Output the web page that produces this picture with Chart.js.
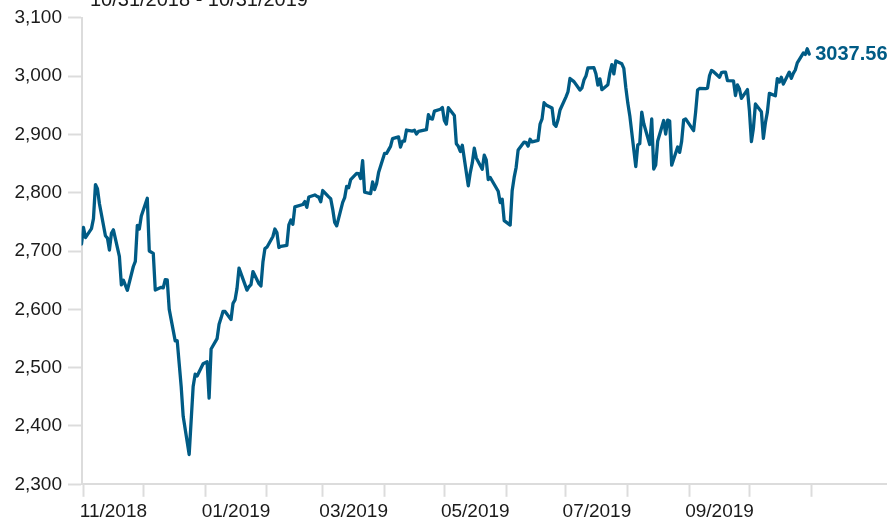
<!DOCTYPE html>
<html>
<head>
<meta charset="utf-8">
<script src="https://cdn.jsdelivr.net/npm/chart.js@4"></script>
<style>
  html, body { margin: 0; padding: 0; background: #ffffff; }
  #wrap { width: 887px; height: 524px; position: relative; }
</style>
</head>
<body>
<div id="wrap"><canvas id="c" width="887" height="524"></canvas></div>
<script>
const titleText = '10/31/2018 - 10/31/2019';

const dates = [
'2018-10-31','2018-11-01','2018-11-02','2018-11-05','2018-11-06','2018-11-07','2018-11-08','2018-11-09',
'2018-11-12','2018-11-13','2018-11-14','2018-11-15','2018-11-16','2018-11-19','2018-11-20','2018-11-21',
'2018-11-23','2018-11-26','2018-11-27','2018-11-28','2018-11-29','2018-11-30',
'2018-12-03','2018-12-04','2018-12-06','2018-12-07','2018-12-10','2018-12-11','2018-12-12','2018-12-13',
'2018-12-14','2018-12-17','2018-12-18','2018-12-19','2018-12-20','2018-12-21','2018-12-24','2018-12-26',
'2018-12-27','2018-12-28','2018-12-31',
'2019-01-02','2019-01-03','2019-01-04','2019-01-07','2019-01-08','2019-01-09','2019-01-10','2019-01-11',
'2019-01-14','2019-01-15','2019-01-16','2019-01-17','2019-01-18','2019-01-22','2019-01-23','2019-01-24',
'2019-01-25','2019-01-28','2019-01-29','2019-01-30','2019-01-31',
'2019-02-01','2019-02-04','2019-02-05','2019-02-06','2019-02-07','2019-02-08','2019-02-11','2019-02-12',
'2019-02-13','2019-02-14','2019-02-15','2019-02-19','2019-02-20','2019-02-21','2019-02-22','2019-02-25',
'2019-02-26','2019-02-27','2019-02-28',
'2019-03-01','2019-03-04','2019-03-05','2019-03-06','2019-03-07','2019-03-08','2019-03-11','2019-03-12',
'2019-03-13','2019-03-14','2019-03-15','2019-03-18','2019-03-19','2019-03-20','2019-03-21','2019-03-22',
'2019-03-25','2019-03-26','2019-03-27','2019-03-28','2019-03-29',
'2019-04-01','2019-04-02','2019-04-03','2019-04-04','2019-04-05','2019-04-08','2019-04-09','2019-04-10',
'2019-04-11','2019-04-12','2019-04-15','2019-04-16','2019-04-17','2019-04-18','2019-04-22','2019-04-23',
'2019-04-24','2019-04-25','2019-04-26','2019-04-29','2019-04-30',
'2019-05-01','2019-05-02','2019-05-03','2019-05-06','2019-05-07','2019-05-08','2019-05-09','2019-05-10',
'2019-05-13','2019-05-14','2019-05-15','2019-05-16','2019-05-17','2019-05-20','2019-05-21','2019-05-22',
'2019-05-23','2019-05-24','2019-05-28','2019-05-29','2019-05-30','2019-05-31',
'2019-06-03','2019-06-04','2019-06-05','2019-06-06','2019-06-07','2019-06-10','2019-06-11','2019-06-12',
'2019-06-13','2019-06-14','2019-06-17','2019-06-18','2019-06-19','2019-06-20','2019-06-21','2019-06-24',
'2019-06-25','2019-06-26','2019-06-27','2019-06-28',
'2019-07-01','2019-07-02','2019-07-03','2019-07-05','2019-07-08','2019-07-09','2019-07-10','2019-07-11',
'2019-07-12','2019-07-15','2019-07-16','2019-07-17','2019-07-18','2019-07-19','2019-07-22','2019-07-23',
'2019-07-24','2019-07-25','2019-07-26','2019-07-29','2019-07-30','2019-07-31',
'2019-08-01','2019-08-02','2019-08-05','2019-08-06','2019-08-07','2019-08-08','2019-08-09','2019-08-12',
'2019-08-13','2019-08-14','2019-08-15','2019-08-16','2019-08-19','2019-08-20','2019-08-21','2019-08-22',
'2019-08-23','2019-08-26','2019-08-27','2019-08-28','2019-08-29','2019-08-30',
'2019-09-03','2019-09-04','2019-09-05','2019-09-06','2019-09-09','2019-09-10','2019-09-11','2019-09-12',
'2019-09-13','2019-09-16','2019-09-17','2019-09-18','2019-09-19','2019-09-20','2019-09-23','2019-09-24',
'2019-09-25','2019-09-26','2019-09-27','2019-09-30',
'2019-10-01','2019-10-02','2019-10-03','2019-10-04','2019-10-07','2019-10-08','2019-10-09','2019-10-10',
'2019-10-11','2019-10-14','2019-10-15','2019-10-16','2019-10-17','2019-10-18','2019-10-21','2019-10-22',
'2019-10-23','2019-10-24','2019-10-25','2019-10-28','2019-10-29','2019-10-30','2019-10-31'
];

const closes = [
2711.74,2740.37,2723.06,2738.31,2755.45,2813.89,2806.83,2781.01,
2726.22,2722.18,2701.58,2730.20,2736.27,2690.73,2641.89,2649.93,
2632.56,2673.45,2682.17,2743.79,2737.80,2760.17,
2790.37,2700.06,2695.95,2633.08,2637.72,2636.78,2651.07,2650.54,
2599.95,2545.94,2546.16,2506.96,2467.42,2416.62,2351.10,2467.70,
2488.83,2485.74,2506.85,
2510.03,2447.89,2531.94,2549.69,2574.41,2584.96,2596.64,2596.26,
2582.61,2610.30,2616.10,2635.96,2670.71,2632.90,2638.70,2642.33,
2664.76,2643.85,2640.00,2681.05,2704.10,
2706.53,2724.87,2737.70,2731.61,2706.05,2707.88,2709.80,2744.73,
2753.03,2745.73,2775.60,2779.76,2784.70,2774.88,2792.67,2796.11,
2793.90,2792.38,2784.49,
2803.69,2792.81,2789.65,2771.45,2748.93,2743.07,2783.30,2791.52,
2810.92,2808.48,2822.48,2832.94,2832.57,2824.23,2854.88,2800.71,
2798.36,2818.46,2805.37,2815.44,2834.40,
2867.19,2867.24,2873.40,2879.39,2892.74,2895.77,2878.20,2888.21,
2888.32,2907.41,2905.58,2907.06,2900.45,2905.03,2907.97,2933.68,
2927.25,2926.17,2939.88,2943.03,2945.83,
2923.73,2917.52,2945.64,2932.47,2884.05,2879.42,2870.72,2881.40,
2811.87,2834.41,2850.96,2876.32,2859.53,2840.23,2864.36,2856.27,
2822.24,2826.06,2802.39,2783.02,2788.86,2752.06,
2744.45,2803.27,2826.15,2843.49,2873.34,2886.73,2885.72,2879.84,
2891.64,2886.98,2889.67,2917.75,2926.46,2954.18,2950.46,2945.35,
2917.38,2913.78,2924.92,2941.76,
2964.33,2973.01,2995.82,2990.41,2975.95,2979.63,2993.07,2999.91,
3013.77,3014.30,3004.04,2984.42,2995.11,2976.61,2985.03,3005.47,
3019.56,3003.67,3025.86,3020.97,3013.18,2980.38,
2953.56,2932.05,2844.74,2881.77,2883.98,2938.09,2918.65,2882.70,
2926.32,2840.60,2847.60,2888.68,2923.65,2900.51,2924.43,2922.95,
2847.11,2878.38,2869.16,2887.94,2924.58,2926.46,
2906.27,2937.78,2976.00,2978.71,2978.43,2979.39,3000.93,3009.57,
3007.39,2997.96,3005.70,3006.73,3006.79,2992.07,2991.78,2966.60,
2984.87,2977.62,2961.79,2976.74,
2940.25,2887.61,2910.63,2952.01,2938.79,2893.06,2919.40,2938.13,
2970.27,2966.15,2995.68,2989.69,2997.95,2986.20,3006.72,2995.99,
3004.52,3010.29,3022.55,3039.42,3036.89,3046.77,3037.56
];

const monthStarts = ['2018-11-01','2018-12-01','2019-01-01','2019-02-01','2019-03-01','2019-04-01',
  '2019-05-01','2019-06-01','2019-07-01','2019-08-01','2019-09-01','2019-10-01','2019-11-01'];
const monthLabels = ['11/2018','01/2019','03/2019','05/2019','07/2019','09/2019'];
const yTickMin = 2300, yTickMax = 3100, yTickStep = 100;

const LINE_COLOR = '#005b85';
const AXIS_COLOR = '#dcdcdc';
const TEXT_COLOR = '#1a1a1a';
const FONT = '"Liberation Sans", Arial, Helvetica, sans-serif';

const dayMs = 86400000;
const toUTC = s => { const p = s.split('-').map(Number); return Date.UTC(p[0], p[1]-1, p[2]); };
const t0 = toUTC(dates[0]);
const dayOf = s => (toUTC(s) - t0) / dayMs;

const points = dates.map((d, i) => ({ x: dayOf(d), y: closes[i] }));
const boundaryDays = monthStarts.map(dayOf);
const labelTicks = monthLabels.map(lbl => {
  const [mm, yy] = lbl.split('/').map(Number);
  const start = Date.UTC(yy, mm - 1, 1), next = Date.UTC(yy, mm, 1);
  return { value: ((start + next) / 2 - t0) / dayMs, kind: 'l', lbl: lbl };
});

const overlay = {
  id: 'overlay',
  afterDatasetsDraw(chart) {
    const ctx = chart.ctx;
    const meta = chart.getDatasetMeta(0);
    const p = meta.data[meta.data.length - 1];
    ctx.save();
    ctx.font = 'bold 20px ' + FONT;
    ctx.fillStyle = LINE_COLOR;
    ctx.textBaseline = 'middle';
    ctx.textAlign = 'left';
    ctx.fillText(closes[closes.length - 1].toFixed(2), p.x + 6, p.y);
    ctx.font = '20px ' + FONT;
    ctx.fillStyle = TEXT_COLOR;
    ctx.textBaseline = 'alphabetic';
    ctx.fillText(titleText, 90, 6);
    ctx.restore();
  }
};

new Chart(document.getElementById('c'), {
  type: 'line',
  data: {
    datasets: [{
      data: points,
      borderColor: LINE_COLOR,
      borderWidth: 3.3,
      pointRadius: 0,
      pointHoverRadius: 0,
      tension: 0,
      fill: false,
      borderJoinStyle: 'round',
      borderCapStyle: 'round'
    }]
  },
  options: {
    responsive: false,
    animation: false,
    events: [],
    layout: { padding: { top: 17.7, right: 0, bottom: 0, left: 0 } },
    plugins: { legend: { display: false }, tooltip: { enabled: false }, title: { display: false } },
    scales: {
      x: {
        type: 'linear',
        min: 0,
        max: 404,
        afterBuildTicks: s => {
          const t = boundaryDays.map(v => ({ value: v, kind: 'b' })).concat(labelTicks.map(o => Object.assign({}, o)));
          t.sort((a, b) => a.value - b.value);
          s.ticks = t;
        },
        afterFit: s => { s.height = 39.7; },
        ticks: {
          autoSkip: false,
          maxRotation: 0,
          minRotation: 0,
          padding: 4,
          color: TEXT_COLOR,
          font: { size: 19, family: FONT },
          callback: (v, i, ticks) => (ticks[i] && ticks[i].lbl) ? ticks[i].lbl : ''
        },
        grid: {
          drawOnChartArea: false,
          drawTicks: true,
          tickLength: 12.5,
          tickWidth: 2,
          tickColor: ctx => (ctx.tick && ctx.tick.kind === 'b') ? AXIS_COLOR : 'rgba(0,0,0,0)'
        },
        border: { display: true, color: AXIS_COLOR, width: 2 }
      },
      y: {
        type: 'linear',
        min: yTickMin,
        max: yTickMax,
        afterFit: s => { s.width = 81.5; },
        ticks: {
          stepSize: yTickStep,
          padding: 6,
          color: TEXT_COLOR,
          font: { size: 19, family: FONT },
          callback: v => Number(v).toLocaleString('en-US')
        },
        grid: {
          drawOnChartArea: false,
          drawTicks: true,
          tickLength: 13.5,
          tickWidth: 2,
          tickColor: AXIS_COLOR
        },
        border: { display: true, color: AXIS_COLOR, width: 2 }
      }
    }
  },
  plugins: [overlay]
});
</script>
</body>
</html>
